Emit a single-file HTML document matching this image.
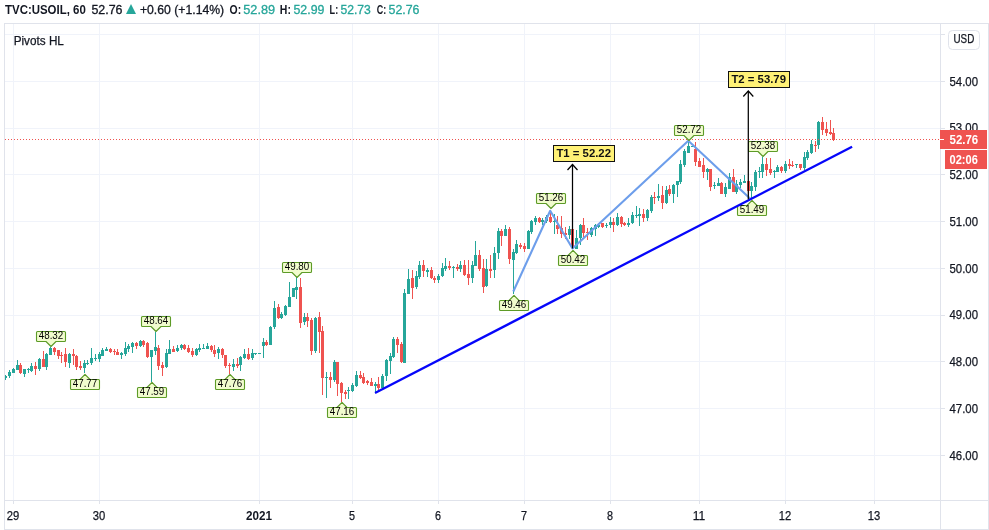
<!DOCTYPE html>
<html><head><meta charset="utf-8"><title>TVC:USOIL</title>
<style>html,body{margin:0;padding:0;background:#fff}body{width:989px;height:530px;overflow:hidden;position:relative}</style></head>
<body>
<svg width="989" height="530" viewBox="0 0 989 530" style="position:absolute;left:0;top:0" font-family='"Liberation Sans", sans-serif'>
<rect width="989" height="530" fill="#fff"/>
<g shape-rendering="crispEdges">
<rect x="13" y="24" width="1" height="476" fill="#f0f3fa"/>
<rect x="99" y="24" width="1" height="476" fill="#f0f3fa"/>
<rect x="259" y="24" width="1" height="476" fill="#f0f3fa"/>
<rect x="352" y="24" width="1" height="476" fill="#f0f3fa"/>
<rect x="438" y="24" width="1" height="476" fill="#f0f3fa"/>
<rect x="524" y="24" width="1" height="476" fill="#f0f3fa"/>
<rect x="610" y="24" width="1" height="476" fill="#f0f3fa"/>
<rect x="699" y="24" width="1" height="476" fill="#f0f3fa"/>
<rect x="785" y="24" width="1" height="476" fill="#f0f3fa"/>
<rect x="874" y="24" width="1" height="476" fill="#f0f3fa"/>
<rect x="5" y="34" width="935" height="1" fill="#f0f3fa"/>
<rect x="5" y="81" width="935" height="1" fill="#f0f3fa"/>
<rect x="5" y="128" width="935" height="1" fill="#f0f3fa"/>
<rect x="5" y="174" width="935" height="1" fill="#f0f3fa"/>
<rect x="5" y="221" width="935" height="1" fill="#f0f3fa"/>
<rect x="5" y="268" width="935" height="1" fill="#f0f3fa"/>
<rect x="5" y="315" width="935" height="1" fill="#f0f3fa"/>
<rect x="5" y="361" width="935" height="1" fill="#f0f3fa"/>
<rect x="5" y="408" width="935" height="1" fill="#f0f3fa"/>
<rect x="5" y="455" width="935" height="1" fill="#f0f3fa"/>
<rect x="4" y="23" width="985" height="1" fill="#e0e3eb"/>
<rect x="4" y="529" width="985" height="1" fill="#e0e3eb"/>
<rect x="4" y="23" width="1" height="507" fill="#e0e3eb"/>
<rect x="988" y="23" width="1" height="507" fill="#e0e3eb"/>
<rect x="940" y="24" width="1" height="505" fill="#e0e3eb"/>
<rect x="5" y="500" width="983" height="1" fill="#e0e3eb"/>
<rect x="13" y="501" width="1" height="3" fill="#e0e3eb"/>
<rect x="99" y="501" width="1" height="3" fill="#e0e3eb"/>
<rect x="259" y="501" width="1" height="3" fill="#e0e3eb"/>
<rect x="352" y="501" width="1" height="3" fill="#e0e3eb"/>
<rect x="438" y="501" width="1" height="3" fill="#e0e3eb"/>
<rect x="524" y="501" width="1" height="3" fill="#e0e3eb"/>
<rect x="610" y="501" width="1" height="3" fill="#e0e3eb"/>
<rect x="699" y="501" width="1" height="3" fill="#e0e3eb"/>
<rect x="785" y="501" width="1" height="3" fill="#e0e3eb"/>
<rect x="874" y="501" width="1" height="3" fill="#e0e3eb"/>
<rect x="941" y="34" width="4" height="1" fill="#e0e3eb"/>
<rect x="941" y="81" width="4" height="1" fill="#e0e3eb"/>
<rect x="941" y="128" width="4" height="1" fill="#e0e3eb"/>
<rect x="941" y="174" width="4" height="1" fill="#e0e3eb"/>
<rect x="941" y="221" width="4" height="1" fill="#e0e3eb"/>
<rect x="941" y="268" width="4" height="1" fill="#e0e3eb"/>
<rect x="941" y="315" width="4" height="1" fill="#e0e3eb"/>
<rect x="941" y="361" width="4" height="1" fill="#e0e3eb"/>
<rect x="941" y="408" width="4" height="1" fill="#e0e3eb"/>
<rect x="941" y="455" width="4" height="1" fill="#e0e3eb"/>
</g>
<g shape-rendering="crispEdges">
<rect x="5" y="375" width="1" height="5" fill="#26a69a"/><rect x="5" y="376" width="2" height="2" fill="#26a69a"/>
<rect x="9" y="370" width="1" height="8" fill="#26a69a"/><rect x="8" y="372" width="3" height="4" fill="#26a69a"/>
<rect x="13" y="368" width="1" height="5" fill="#26a69a"/><rect x="12" y="369" width="3" height="4" fill="#26a69a"/>
<rect x="17" y="360" width="1" height="10" fill="#26a69a"/><rect x="16" y="365" width="3" height="5" fill="#26a69a"/>
<rect x="20" y="363" width="1" height="11" fill="#ef5350"/><rect x="19" y="365" width="3" height="8" fill="#ef5350"/>
<rect x="24" y="369" width="1" height="8" fill="#26a69a"/><rect x="23" y="369" width="3" height="5" fill="#26a69a"/>
<rect x="28" y="368" width="1" height="5" fill="#26a69a"/><rect x="27" y="369" width="3" height="1" fill="#26a69a"/>
<rect x="31" y="363" width="1" height="9" fill="#26a69a"/><rect x="30" y="366" width="3" height="5" fill="#26a69a"/>
<rect x="35" y="362" width="1" height="13" fill="#ef5350"/><rect x="34" y="366" width="3" height="3" fill="#ef5350"/>
<rect x="39" y="358" width="1" height="13" fill="#26a69a"/><rect x="38" y="359" width="3" height="10" fill="#26a69a"/>
<rect x="43" y="351" width="1" height="16" fill="#ef5350"/><rect x="42" y="359" width="3" height="8" fill="#ef5350"/>
<rect x="46" y="353" width="1" height="17" fill="#26a69a"/><rect x="45" y="354" width="3" height="13" fill="#26a69a"/>
<rect x="50" y="347" width="1" height="8" fill="#26a69a"/><rect x="49" y="348" width="3" height="7" fill="#26a69a"/>
<rect x="54" y="347" width="1" height="8" fill="#ef5350"/><rect x="53" y="348" width="3" height="4" fill="#ef5350"/>
<rect x="58" y="350" width="1" height="9" fill="#ef5350"/><rect x="57" y="350" width="3" height="6" fill="#ef5350"/>
<rect x="61" y="352" width="1" height="11" fill="#ef5350"/><rect x="60" y="355" width="3" height="1" fill="#ef5350"/>
<rect x="65" y="348" width="1" height="19" fill="#ef5350"/><rect x="64" y="354" width="3" height="8" fill="#ef5350"/>
<rect x="69" y="353" width="1" height="15" fill="#26a69a"/><rect x="68" y="354" width="3" height="9" fill="#26a69a"/>
<rect x="73" y="349" width="1" height="16" fill="#ef5350"/><rect x="72" y="354" width="3" height="2" fill="#ef5350"/>
<rect x="76" y="355" width="1" height="15" fill="#ef5350"/><rect x="75" y="356" width="3" height="11" fill="#ef5350"/>
<rect x="80" y="361" width="1" height="9" fill="#ef5350"/><rect x="79" y="366" width="3" height="2" fill="#ef5350"/>
<rect x="84" y="360" width="1" height="13" fill="#26a69a"/><rect x="83" y="363" width="3" height="5" fill="#26a69a"/>
<rect x="87" y="360" width="1" height="5" fill="#26a69a"/><rect x="86" y="363" width="3" height="1" fill="#26a69a"/>
<rect x="91" y="348" width="1" height="17" fill="#26a69a"/><rect x="90" y="358" width="3" height="5" fill="#26a69a"/>
<rect x="95" y="354" width="1" height="7" fill="#26a69a"/><rect x="94" y="358" width="3" height="1" fill="#26a69a"/>
<rect x="99" y="352" width="1" height="10" fill="#26a69a"/><rect x="98" y="354" width="3" height="5" fill="#26a69a"/>
<rect x="102" y="348" width="1" height="8" fill="#26a69a"/><rect x="101" y="350" width="3" height="6" fill="#26a69a"/>
<rect x="106" y="347" width="1" height="4" fill="#26a69a"/><rect x="105" y="349" width="3" height="2" fill="#26a69a"/>
<rect x="110" y="348" width="1" height="5" fill="#ef5350"/><rect x="109" y="349" width="3" height="3" fill="#ef5350"/>
<rect x="114" y="349" width="1" height="6" fill="#ef5350"/><rect x="113" y="351" width="3" height="1" fill="#ef5350"/>
<rect x="117" y="349" width="1" height="6" fill="#ef5350"/><rect x="116" y="352" width="3" height="3" fill="#ef5350"/>
<rect x="121" y="352" width="1" height="7" fill="#26a69a"/><rect x="120" y="353" width="3" height="2" fill="#26a69a"/>
<rect x="125" y="342" width="1" height="14" fill="#26a69a"/><rect x="124" y="348" width="3" height="6" fill="#26a69a"/>
<rect x="128" y="344" width="1" height="8" fill="#26a69a"/><rect x="127" y="346" width="3" height="3" fill="#26a69a"/>
<rect x="132" y="342" width="1" height="11" fill="#26a69a"/><rect x="131" y="343" width="3" height="4" fill="#26a69a"/>
<rect x="136" y="342" width="1" height="7" fill="#ef5350"/><rect x="135" y="343" width="3" height="3" fill="#ef5350"/>
<rect x="140" y="340" width="1" height="7" fill="#26a69a"/><rect x="139" y="341" width="3" height="5" fill="#26a69a"/>
<rect x="143" y="340" width="1" height="7" fill="#ef5350"/><rect x="142" y="341" width="3" height="4" fill="#ef5350"/>
<rect x="147" y="342" width="1" height="16" fill="#ef5350"/><rect x="146" y="343" width="3" height="14" fill="#ef5350"/>
<rect x="151" y="350" width="1" height="32" fill="#26a69a"/><rect x="150" y="350" width="3" height="7" fill="#26a69a"/>
<rect x="155" y="332" width="1" height="23" fill="#26a69a"/><rect x="154" y="347" width="3" height="4" fill="#26a69a"/>
<rect x="158" y="345" width="1" height="25" fill="#ef5350"/><rect x="157" y="348" width="3" height="18" fill="#ef5350"/>
<rect x="162" y="362" width="1" height="14" fill="#ef5350"/><rect x="161" y="365" width="3" height="3" fill="#ef5350"/>
<rect x="166" y="349" width="1" height="19" fill="#26a69a"/><rect x="165" y="353" width="3" height="14" fill="#26a69a"/>
<rect x="169" y="340" width="1" height="14" fill="#26a69a"/><rect x="168" y="349" width="3" height="5" fill="#26a69a"/>
<rect x="173" y="346" width="1" height="6" fill="#ef5350"/><rect x="172" y="349" width="3" height="3" fill="#ef5350"/>
<rect x="177" y="345" width="1" height="7" fill="#26a69a"/><rect x="176" y="348" width="3" height="3" fill="#26a69a"/>
<rect x="181" y="344" width="1" height="6" fill="#26a69a"/><rect x="180" y="345" width="3" height="3" fill="#26a69a"/>
<rect x="184" y="344" width="1" height="6" fill="#ef5350"/><rect x="183" y="345" width="3" height="4" fill="#ef5350"/>
<rect x="188" y="345" width="1" height="8" fill="#ef5350"/><rect x="187" y="348" width="3" height="4" fill="#ef5350"/>
<rect x="192" y="348" width="1" height="9" fill="#ef5350"/><rect x="191" y="351" width="3" height="4" fill="#ef5350"/>
<rect x="196" y="348" width="1" height="8" fill="#26a69a"/><rect x="195" y="349" width="3" height="6" fill="#26a69a"/>
<rect x="199" y="344" width="1" height="8" fill="#26a69a"/><rect x="198" y="348" width="3" height="2" fill="#26a69a"/>
<rect x="203" y="344" width="1" height="5" fill="#26a69a"/><rect x="202" y="348" width="3" height="1" fill="#26a69a"/>
<rect x="207" y="343" width="1" height="6" fill="#26a69a"/><rect x="206" y="346" width="3" height="3" fill="#26a69a"/>
<rect x="211" y="345" width="1" height="7" fill="#ef5350"/><rect x="210" y="346" width="3" height="4" fill="#ef5350"/>
<rect x="214" y="345" width="1" height="12" fill="#ef5350"/><rect x="213" y="350" width="3" height="4" fill="#ef5350"/>
<rect x="218" y="347" width="1" height="12" fill="#26a69a"/><rect x="217" y="349" width="3" height="4" fill="#26a69a"/>
<rect x="222" y="348" width="1" height="10" fill="#ef5350"/><rect x="221" y="349" width="3" height="6" fill="#ef5350"/>
<rect x="225" y="355" width="1" height="13" fill="#ef5350"/><rect x="224" y="355" width="3" height="11" fill="#ef5350"/>
<rect x="229" y="363" width="1" height="11" fill="#ef5350"/><rect x="228" y="365" width="3" height="1" fill="#ef5350"/>
<rect x="233" y="359" width="1" height="12" fill="#26a69a"/><rect x="232" y="364" width="3" height="3" fill="#26a69a"/>
<rect x="237" y="358" width="1" height="10" fill="#ef5350"/><rect x="236" y="364" width="3" height="2" fill="#ef5350"/>
<rect x="240" y="356" width="1" height="15" fill="#26a69a"/><rect x="239" y="357" width="3" height="8" fill="#26a69a"/>
<rect x="244" y="349" width="1" height="10" fill="#26a69a"/><rect x="243" y="354" width="3" height="4" fill="#26a69a"/>
<rect x="248" y="348" width="1" height="12" fill="#ef5350"/><rect x="247" y="354" width="3" height="5" fill="#ef5350"/>
<rect x="252" y="349" width="1" height="11" fill="#26a69a"/><rect x="251" y="353" width="3" height="5" fill="#26a69a"/>
<rect x="255" y="353" width="1" height="2" fill="#26a69a"/><rect x="254" y="353" width="3" height="1" fill="#26a69a"/>
<rect x="259" y="353" width="1" height="1" fill="#26a69a"/><rect x="258" y="353" width="3" height="1" fill="#26a69a"/>
<rect x="263" y="338" width="1" height="20" fill="#26a69a"/><rect x="262" y="342" width="3" height="4" fill="#26a69a"/>
<rect x="266" y="340" width="1" height="6" fill="#ef5350"/><rect x="265" y="342" width="3" height="3" fill="#ef5350"/>
<rect x="270" y="326" width="1" height="19" fill="#26a69a"/><rect x="269" y="327" width="3" height="18" fill="#26a69a"/>
<rect x="274" y="301" width="1" height="28" fill="#26a69a"/><rect x="273" y="308" width="3" height="19" fill="#26a69a"/>
<rect x="278" y="304" width="1" height="15" fill="#ef5350"/><rect x="277" y="307" width="3" height="11" fill="#ef5350"/>
<rect x="281" y="312" width="1" height="7" fill="#26a69a"/><rect x="280" y="314" width="3" height="4" fill="#26a69a"/>
<rect x="285" y="305" width="1" height="11" fill="#26a69a"/><rect x="284" y="306" width="3" height="9" fill="#26a69a"/>
<rect x="289" y="282" width="1" height="25" fill="#26a69a"/><rect x="288" y="297" width="3" height="10" fill="#26a69a"/>
<rect x="293" y="288" width="1" height="9" fill="#26a69a"/><rect x="292" y="288" width="3" height="9" fill="#26a69a"/>
<rect x="296" y="277" width="1" height="22" fill="#26a69a"/><rect x="295" y="287" width="3" height="3" fill="#26a69a"/>
<rect x="300" y="278" width="1" height="50" fill="#ef5350"/><rect x="299" y="287" width="3" height="36" fill="#ef5350"/>
<rect x="304" y="313" width="1" height="12" fill="#26a69a"/><rect x="303" y="317" width="3" height="5" fill="#26a69a"/>
<rect x="307" y="313" width="1" height="14" fill="#ef5350"/><rect x="306" y="317" width="3" height="4" fill="#ef5350"/>
<rect x="311" y="318" width="1" height="37" fill="#ef5350"/><rect x="310" y="320" width="3" height="31" fill="#ef5350"/>
<rect x="315" y="317" width="1" height="36" fill="#26a69a"/><rect x="314" y="318" width="3" height="33" fill="#26a69a"/>
<rect x="319" y="312" width="1" height="41" fill="#ef5350"/><rect x="318" y="317" width="3" height="15" fill="#ef5350"/>
<rect x="322" y="326" width="1" height="69" fill="#ef5350"/><rect x="321" y="331" width="3" height="47" fill="#ef5350"/>
<rect x="326" y="372" width="1" height="26" fill="#26a69a"/><rect x="325" y="377" width="3" height="1" fill="#26a69a"/>
<rect x="330" y="372" width="1" height="16" fill="#ef5350"/><rect x="329" y="377" width="3" height="3" fill="#ef5350"/>
<rect x="334" y="360" width="1" height="22" fill="#26a69a"/><rect x="333" y="362" width="3" height="18" fill="#26a69a"/>
<rect x="337" y="362" width="1" height="34" fill="#ef5350"/><rect x="336" y="362" width="3" height="22" fill="#ef5350"/>
<rect x="341" y="382" width="1" height="20" fill="#ef5350"/><rect x="340" y="383" width="3" height="10" fill="#ef5350"/>
<rect x="345" y="390" width="1" height="9" fill="#ef5350"/><rect x="344" y="392" width="3" height="2" fill="#ef5350"/>
<rect x="348" y="387" width="1" height="12" fill="#26a69a"/><rect x="347" y="390" width="3" height="1" fill="#26a69a"/>
<rect x="352" y="383" width="1" height="9" fill="#26a69a"/><rect x="351" y="385" width="3" height="6" fill="#26a69a"/>
<rect x="356" y="371" width="1" height="16" fill="#26a69a"/><rect x="355" y="375" width="3" height="11" fill="#26a69a"/>
<rect x="360" y="371" width="1" height="8" fill="#ef5350"/><rect x="359" y="375" width="3" height="3" fill="#ef5350"/>
<rect x="363" y="373" width="1" height="11" fill="#ef5350"/><rect x="362" y="377" width="3" height="6" fill="#ef5350"/>
<rect x="367" y="380" width="1" height="5" fill="#ef5350"/><rect x="366" y="381" width="3" height="2" fill="#ef5350"/>
<rect x="371" y="378" width="1" height="8" fill="#ef5350"/><rect x="370" y="382" width="3" height="4" fill="#ef5350"/>
<rect x="375" y="382" width="1" height="10" fill="#26a69a"/><rect x="374" y="384" width="3" height="2" fill="#26a69a"/>
<rect x="378" y="377" width="1" height="13" fill="#ef5350"/><rect x="377" y="384" width="3" height="4" fill="#ef5350"/>
<rect x="382" y="374" width="1" height="14" fill="#26a69a"/><rect x="381" y="376" width="3" height="12" fill="#26a69a"/>
<rect x="386" y="359" width="1" height="22" fill="#26a69a"/><rect x="385" y="360" width="3" height="16" fill="#26a69a"/>
<rect x="390" y="353" width="1" height="21" fill="#26a69a"/><rect x="389" y="356" width="3" height="5" fill="#26a69a"/>
<rect x="393" y="337" width="1" height="21" fill="#26a69a"/><rect x="392" y="339" width="3" height="18" fill="#26a69a"/>
<rect x="397" y="337" width="1" height="16" fill="#ef5350"/><rect x="396" y="339" width="3" height="6" fill="#ef5350"/>
<rect x="401" y="342" width="1" height="21" fill="#ef5350"/><rect x="400" y="344" width="3" height="18" fill="#ef5350"/>
<rect x="404" y="289" width="1" height="74" fill="#26a69a"/><rect x="403" y="293" width="3" height="70" fill="#26a69a"/>
<rect x="408" y="269" width="1" height="25" fill="#26a69a"/><rect x="407" y="279" width="3" height="15" fill="#26a69a"/>
<rect x="412" y="270" width="1" height="29" fill="#ef5350"/><rect x="411" y="278" width="3" height="10" fill="#ef5350"/>
<rect x="416" y="271" width="1" height="18" fill="#26a69a"/><rect x="415" y="276" width="3" height="11" fill="#26a69a"/>
<rect x="419" y="261" width="1" height="18" fill="#26a69a"/><rect x="418" y="265" width="3" height="12" fill="#26a69a"/>
<rect x="423" y="260" width="1" height="17" fill="#ef5350"/><rect x="422" y="265" width="3" height="6" fill="#ef5350"/>
<rect x="427" y="268" width="1" height="9" fill="#26a69a"/><rect x="426" y="270" width="3" height="2" fill="#26a69a"/>
<rect x="431" y="267" width="1" height="12" fill="#ef5350"/><rect x="430" y="270" width="3" height="8" fill="#ef5350"/>
<rect x="434" y="276" width="1" height="7" fill="#ef5350"/><rect x="433" y="278" width="3" height="2" fill="#ef5350"/>
<rect x="438" y="274" width="1" height="9" fill="#26a69a"/><rect x="437" y="276" width="3" height="4" fill="#26a69a"/>
<rect x="442" y="263" width="1" height="14" fill="#26a69a"/><rect x="441" y="268" width="3" height="8" fill="#26a69a"/>
<rect x="445" y="258" width="1" height="13" fill="#26a69a"/><rect x="444" y="266" width="3" height="3" fill="#26a69a"/>
<rect x="449" y="261" width="1" height="9" fill="#ef5350"/><rect x="448" y="266" width="3" height="2" fill="#ef5350"/>
<rect x="453" y="266" width="1" height="12" fill="#26a69a"/><rect x="452" y="267" width="3" height="1" fill="#26a69a"/>
<rect x="457" y="264" width="1" height="7" fill="#ef5350"/><rect x="456" y="267" width="3" height="2" fill="#ef5350"/>
<rect x="460" y="261" width="1" height="11" fill="#26a69a"/><rect x="459" y="265" width="3" height="4" fill="#26a69a"/>
<rect x="464" y="260" width="1" height="16" fill="#ef5350"/><rect x="463" y="265" width="3" height="10" fill="#ef5350"/>
<rect x="468" y="260" width="1" height="25" fill="#ef5350"/><rect x="467" y="274" width="3" height="4" fill="#ef5350"/>
<rect x="472" y="261" width="1" height="22" fill="#26a69a"/><rect x="471" y="265" width="3" height="13" fill="#26a69a"/>
<rect x="475" y="241" width="1" height="25" fill="#26a69a"/><rect x="474" y="255" width="3" height="11" fill="#26a69a"/>
<rect x="479" y="250" width="1" height="21" fill="#ef5350"/><rect x="478" y="255" width="3" height="14" fill="#ef5350"/>
<rect x="483" y="259" width="1" height="34" fill="#ef5350"/><rect x="482" y="268" width="3" height="19" fill="#ef5350"/>
<rect x="486" y="259" width="1" height="28" fill="#26a69a"/><rect x="485" y="269" width="3" height="17" fill="#26a69a"/>
<rect x="490" y="255" width="1" height="23" fill="#ef5350"/><rect x="489" y="269" width="3" height="2" fill="#ef5350"/>
<rect x="494" y="247" width="1" height="31" fill="#26a69a"/><rect x="493" y="253" width="3" height="17" fill="#26a69a"/>
<rect x="498" y="228" width="1" height="31" fill="#26a69a"/><rect x="497" y="231" width="3" height="22" fill="#26a69a"/>
<rect x="501" y="229" width="1" height="17" fill="#ef5350"/><rect x="500" y="231" width="3" height="5" fill="#ef5350"/>
<rect x="505" y="225" width="1" height="11" fill="#26a69a"/><rect x="504" y="229" width="3" height="7" fill="#26a69a"/>
<rect x="509" y="227" width="1" height="37" fill="#ef5350"/><rect x="508" y="229" width="3" height="30" fill="#ef5350"/>
<rect x="513" y="249" width="1" height="45" fill="#26a69a"/><rect x="512" y="252" width="3" height="8" fill="#26a69a"/>
<rect x="516" y="240" width="1" height="14" fill="#26a69a"/><rect x="515" y="244" width="3" height="9" fill="#26a69a"/>
<rect x="520" y="243" width="1" height="6" fill="#ef5350"/><rect x="519" y="245" width="3" height="2" fill="#ef5350"/>
<rect x="524" y="243" width="1" height="9" fill="#ef5350"/><rect x="523" y="246" width="3" height="3" fill="#ef5350"/>
<rect x="528" y="230" width="1" height="19" fill="#26a69a"/><rect x="527" y="231" width="3" height="18" fill="#26a69a"/>
<rect x="531" y="220" width="1" height="14" fill="#26a69a"/><rect x="530" y="221" width="3" height="11" fill="#26a69a"/>
<rect x="535" y="216" width="1" height="9" fill="#26a69a"/><rect x="534" y="218" width="3" height="4" fill="#26a69a"/>
<rect x="539" y="217" width="1" height="6" fill="#ef5350"/><rect x="538" y="218" width="3" height="4" fill="#ef5350"/>
<rect x="542" y="218" width="1" height="7" fill="#26a69a"/><rect x="541" y="220" width="3" height="2" fill="#26a69a"/>
<rect x="546" y="215" width="1" height="8" fill="#26a69a"/><rect x="545" y="217" width="3" height="4" fill="#26a69a"/>
<rect x="550" y="210" width="1" height="13" fill="#ef5350"/><rect x="549" y="217" width="3" height="5" fill="#ef5350"/>
<rect x="554" y="214" width="1" height="20" fill="#26a69a"/><rect x="553" y="221" width="3" height="1" fill="#26a69a"/>
<rect x="557" y="216" width="1" height="18" fill="#ef5350"/><rect x="556" y="225" width="3" height="4" fill="#ef5350"/>
<rect x="561" y="216" width="1" height="22" fill="#ef5350"/><rect x="560" y="228" width="3" height="6" fill="#ef5350"/>
<rect x="565" y="227" width="1" height="12" fill="#ef5350"/><rect x="564" y="233" width="3" height="2" fill="#ef5350"/>
<rect x="569" y="226" width="1" height="13" fill="#26a69a"/><rect x="568" y="229" width="3" height="6" fill="#26a69a"/>
<rect x="572" y="229" width="1" height="20" fill="#ef5350"/><rect x="571" y="229" width="3" height="19" fill="#ef5350"/>
<rect x="576" y="230" width="1" height="19" fill="#26a69a"/><rect x="575" y="238" width="3" height="11" fill="#26a69a"/>
<rect x="580" y="224" width="1" height="21" fill="#26a69a"/><rect x="579" y="225" width="3" height="13" fill="#26a69a"/>
<rect x="583" y="218" width="1" height="19" fill="#ef5350"/><rect x="582" y="225" width="3" height="8" fill="#ef5350"/>
<rect x="587" y="228" width="1" height="12" fill="#ef5350"/><rect x="586" y="232" width="3" height="1" fill="#ef5350"/>
<rect x="591" y="227" width="1" height="10" fill="#26a69a"/><rect x="590" y="228" width="3" height="7" fill="#26a69a"/>
<rect x="595" y="224" width="1" height="12" fill="#26a69a"/><rect x="594" y="225" width="3" height="4" fill="#26a69a"/>
<rect x="598" y="224" width="1" height="4" fill="#26a69a"/><rect x="597" y="225" width="3" height="2" fill="#26a69a"/>
<rect x="602" y="223" width="1" height="5" fill="#ef5350"/><rect x="601" y="223" width="3" height="4" fill="#ef5350"/>
<rect x="606" y="223" width="1" height="5" fill="#26a69a"/><rect x="605" y="225" width="3" height="1" fill="#26a69a"/>
<rect x="610" y="217" width="1" height="11" fill="#26a69a"/><rect x="609" y="222" width="3" height="3" fill="#26a69a"/>
<rect x="613" y="218" width="1" height="14" fill="#ef5350"/><rect x="612" y="222" width="3" height="3" fill="#ef5350"/>
<rect x="617" y="213" width="1" height="13" fill="#26a69a"/><rect x="616" y="217" width="3" height="8" fill="#26a69a"/>
<rect x="621" y="216" width="1" height="11" fill="#ef5350"/><rect x="620" y="217" width="3" height="7" fill="#ef5350"/>
<rect x="624" y="222" width="1" height="4" fill="#ef5350"/><rect x="623" y="223" width="3" height="2" fill="#ef5350"/>
<rect x="628" y="218" width="1" height="9" fill="#26a69a"/><rect x="627" y="223" width="3" height="2" fill="#26a69a"/>
<rect x="632" y="212" width="1" height="12" fill="#26a69a"/><rect x="631" y="215" width="3" height="8" fill="#26a69a"/>
<rect x="636" y="206" width="1" height="12" fill="#26a69a"/><rect x="635" y="215" width="3" height="1" fill="#26a69a"/>
<rect x="639" y="208" width="1" height="18" fill="#26a69a"/><rect x="638" y="214" width="3" height="2" fill="#26a69a"/>
<rect x="643" y="209" width="1" height="13" fill="#ef5350"/><rect x="642" y="214" width="3" height="4" fill="#ef5350"/>
<rect x="647" y="209" width="1" height="12" fill="#26a69a"/><rect x="646" y="210" width="3" height="8" fill="#26a69a"/>
<rect x="651" y="195" width="1" height="18" fill="#26a69a"/><rect x="650" y="197" width="3" height="14" fill="#26a69a"/>
<rect x="654" y="192" width="1" height="12" fill="#ef5350"/><rect x="653" y="197" width="3" height="1" fill="#ef5350"/>
<rect x="658" y="184" width="1" height="17" fill="#26a69a"/><rect x="657" y="196" width="3" height="2" fill="#26a69a"/>
<rect x="662" y="186" width="1" height="23" fill="#ef5350"/><rect x="661" y="195" width="3" height="8" fill="#ef5350"/>
<rect x="666" y="186" width="1" height="18" fill="#26a69a"/><rect x="665" y="190" width="3" height="13" fill="#26a69a"/>
<rect x="669" y="185" width="1" height="11" fill="#ef5350"/><rect x="668" y="189" width="3" height="5" fill="#ef5350"/>
<rect x="673" y="184" width="1" height="19" fill="#26a69a"/><rect x="672" y="185" width="3" height="9" fill="#26a69a"/>
<rect x="677" y="181" width="1" height="16" fill="#26a69a"/><rect x="676" y="181" width="3" height="4" fill="#26a69a"/>
<rect x="680" y="160" width="1" height="24" fill="#26a69a"/><rect x="679" y="164" width="3" height="18" fill="#26a69a"/>
<rect x="684" y="149" width="1" height="18" fill="#26a69a"/><rect x="683" y="151" width="3" height="14" fill="#26a69a"/>
<rect x="688" y="141" width="1" height="12" fill="#26a69a"/><rect x="687" y="146" width="3" height="7" fill="#26a69a"/>
<rect x="692" y="146" width="1" height="1" fill="#26a69a"/><rect x="691" y="146" width="3" height="1" fill="#26a69a"/>
<rect x="695" y="142" width="1" height="24" fill="#ef5350"/><rect x="694" y="149" width="3" height="13" fill="#ef5350"/>
<rect x="699" y="158" width="1" height="9" fill="#ef5350"/><rect x="698" y="161" width="3" height="6" fill="#ef5350"/>
<rect x="703" y="158" width="1" height="20" fill="#ef5350"/><rect x="702" y="165" width="3" height="7" fill="#ef5350"/>
<rect x="707" y="168" width="1" height="12" fill="#26a69a"/><rect x="706" y="169" width="3" height="3" fill="#26a69a"/>
<rect x="710" y="169" width="1" height="22" fill="#ef5350"/><rect x="709" y="169" width="3" height="18" fill="#ef5350"/>
<rect x="714" y="182" width="1" height="7" fill="#26a69a"/><rect x="713" y="185" width="3" height="1" fill="#26a69a"/>
<rect x="718" y="178" width="1" height="8" fill="#26a69a"/><rect x="717" y="183" width="3" height="3" fill="#26a69a"/>
<rect x="721" y="182" width="1" height="12" fill="#ef5350"/><rect x="720" y="183" width="3" height="11" fill="#ef5350"/>
<rect x="725" y="183" width="1" height="14" fill="#26a69a"/><rect x="724" y="187" width="3" height="7" fill="#26a69a"/>
<rect x="729" y="173" width="1" height="16" fill="#26a69a"/><rect x="728" y="177" width="3" height="12" fill="#26a69a"/>
<rect x="733" y="169" width="1" height="23" fill="#ef5350"/><rect x="732" y="177" width="3" height="15" fill="#ef5350"/>
<rect x="736" y="180" width="1" height="14" fill="#26a69a"/><rect x="735" y="184" width="3" height="8" fill="#26a69a"/>
<rect x="740" y="179" width="1" height="9" fill="#26a69a"/><rect x="739" y="182" width="3" height="3" fill="#26a69a"/>
<rect x="744" y="175" width="1" height="8" fill="#26a69a"/><rect x="743" y="181" width="3" height="2" fill="#26a69a"/>
<rect x="748" y="181" width="1" height="15" fill="#ef5350"/><rect x="747" y="181" width="3" height="10" fill="#ef5350"/>
<rect x="751" y="182" width="1" height="16" fill="#26a69a"/><rect x="750" y="186" width="3" height="5" fill="#26a69a"/>
<rect x="755" y="170" width="1" height="21" fill="#26a69a"/><rect x="754" y="172" width="3" height="15" fill="#26a69a"/>
<rect x="759" y="167" width="1" height="11" fill="#26a69a"/><rect x="758" y="171" width="3" height="1" fill="#26a69a"/>
<rect x="762" y="157" width="1" height="21" fill="#26a69a"/><rect x="761" y="164" width="3" height="8" fill="#26a69a"/>
<rect x="766" y="158" width="1" height="18" fill="#ef5350"/><rect x="765" y="164" width="3" height="6" fill="#ef5350"/>
<rect x="770" y="158" width="1" height="17" fill="#ef5350"/><rect x="769" y="169" width="3" height="4" fill="#ef5350"/>
<rect x="774" y="170" width="1" height="8" fill="#26a69a"/><rect x="773" y="171" width="3" height="1" fill="#26a69a"/>
<rect x="777" y="165" width="1" height="7" fill="#26a69a"/><rect x="776" y="167" width="3" height="5" fill="#26a69a"/>
<rect x="781" y="166" width="1" height="7" fill="#ef5350"/><rect x="780" y="167" width="3" height="4" fill="#ef5350"/>
<rect x="785" y="161" width="1" height="12" fill="#26a69a"/><rect x="784" y="164" width="3" height="7" fill="#26a69a"/>
<rect x="789" y="159" width="1" height="10" fill="#ef5350"/><rect x="788" y="164" width="3" height="2" fill="#ef5350"/>
<rect x="792" y="161" width="1" height="6" fill="#ef5350"/><rect x="791" y="165" width="3" height="1" fill="#ef5350"/>
<rect x="796" y="164" width="1" height="4" fill="#26a69a"/><rect x="795" y="164" width="3" height="1" fill="#26a69a"/>
<rect x="800" y="164" width="1" height="6" fill="#ef5350"/><rect x="799" y="164" width="3" height="4" fill="#ef5350"/>
<rect x="804" y="152" width="1" height="18" fill="#26a69a"/><rect x="803" y="157" width="3" height="11" fill="#26a69a"/>
<rect x="807" y="150" width="1" height="10" fill="#26a69a"/><rect x="806" y="152" width="3" height="6" fill="#26a69a"/>
<rect x="811" y="140" width="1" height="14" fill="#26a69a"/><rect x="810" y="144" width="3" height="9" fill="#26a69a"/>
<rect x="815" y="141" width="1" height="11" fill="#ef5350"/><rect x="814" y="145" width="3" height="1" fill="#ef5350"/>
<rect x="818" y="121" width="1" height="28" fill="#26a69a"/><rect x="817" y="122" width="3" height="23" fill="#26a69a"/>
<rect x="822" y="117" width="1" height="18" fill="#ef5350"/><rect x="821" y="122" width="3" height="8" fill="#ef5350"/>
<rect x="826" y="122" width="1" height="14" fill="#ef5350"/><rect x="825" y="129" width="3" height="4" fill="#ef5350"/>
<rect x="830" y="120" width="1" height="15" fill="#ef5350"/><rect x="829" y="132" width="3" height="2" fill="#ef5350"/>
<rect x="833" y="128" width="1" height="13" fill="#ef5350"/><rect x="832" y="133" width="3" height="7" fill="#ef5350"/>
</g>
<line x1="5" y1="139.5" x2="940" y2="139.5" stroke="#ef5350" stroke-width="1" stroke-dasharray="1 2" shape-rendering="crispEdges"/>
<polyline points="513.3,291.5 550.2,210.8 572.5,248.5 688.3,140.8 750.3,198.7" fill="none" stroke="#6d9eeb" stroke-width="2.1" stroke-linejoin="round"/>
<path d="M37.5,331.5 H64.5 Q65.5,331.5 65.5,332.5 V340.5 Q65.5,341.5 64.5,341.5 H56 L51,346.5 L46,341.5 H37.5 Q36.5,341.5 36.5,340.5 V332.5 Q36.5,331.5 37.5,331.5Z" fill="#f1fcce" stroke="#5d9b27" stroke-width="1.1" stroke-linejoin="round"/>
<text x="51.0" y="339.0" font-size="10.2" text-anchor="middle" fill="#000" textLength="24.5" lengthAdjust="spacingAndGlyphs">48.32</text>
<path d="M71.5,379.5 H80 L85,374.3 L90,379.5 H98.5 Q99.5,379.5 99.5,380.5 V388.5 Q99.5,389.5 98.5,389.5 H71.5 Q70.5,389.5 70.5,388.5 V380.5 Q70.5,379.5 71.5,379.5Z" fill="#f1fcce" stroke="#5d9b27" stroke-width="1.1" stroke-linejoin="round"/>
<text x="85.0" y="387.0" font-size="10.2" text-anchor="middle" fill="#000" textLength="24.5" lengthAdjust="spacingAndGlyphs">47.77</text>
<path d="M142.5,316.5 H169.5 Q170.5,316.5 170.5,317.5 V325.5 Q170.5,326.5 169.5,326.5 H161 L156,331.5 L151,326.5 H142.5 Q141.5,326.5 141.5,325.5 V317.5 Q141.5,316.5 142.5,316.5Z" fill="#f1fcce" stroke="#5d9b27" stroke-width="1.1" stroke-linejoin="round"/>
<text x="156.0" y="324.0" font-size="10.2" text-anchor="middle" fill="#000" textLength="24.5" lengthAdjust="spacingAndGlyphs">48.64</text>
<path d="M138.5,387.5 H147 L152,382.3 L157,387.5 H165.5 Q166.5,387.5 166.5,388.5 V396.5 Q166.5,397.5 165.5,397.5 H138.5 Q137.5,397.5 137.5,396.5 V388.5 Q137.5,387.5 138.5,387.5Z" fill="#f1fcce" stroke="#5d9b27" stroke-width="1.1" stroke-linejoin="round"/>
<text x="152.0" y="395.0" font-size="10.2" text-anchor="middle" fill="#000" textLength="24.5" lengthAdjust="spacingAndGlyphs">47.59</text>
<path d="M216.5,379.5 H225 L230,374.3 L235,379.5 H243.5 Q244.5,379.5 244.5,380.5 V388.5 Q244.5,389.5 243.5,389.5 H216.5 Q215.5,389.5 215.5,388.5 V380.5 Q215.5,379.5 216.5,379.5Z" fill="#f1fcce" stroke="#5d9b27" stroke-width="1.1" stroke-linejoin="round"/>
<text x="230.0" y="387.0" font-size="10.2" text-anchor="middle" fill="#000" textLength="24.5" lengthAdjust="spacingAndGlyphs">47.76</text>
<path d="M283.5,262.5 H310.5 Q311.5,262.5 311.5,263.5 V271.5 Q311.5,272.5 310.5,272.5 H302 L297,277.5 L292,272.5 H283.5 Q282.5,272.5 282.5,271.5 V263.5 Q282.5,262.5 283.5,262.5Z" fill="#f1fcce" stroke="#5d9b27" stroke-width="1.1" stroke-linejoin="round"/>
<text x="297.0" y="270.0" font-size="10.2" text-anchor="middle" fill="#000" textLength="24.5" lengthAdjust="spacingAndGlyphs">49.80</text>
<path d="M328.5,407.5 H337 L342,402.3 L347,407.5 H355.5 Q356.5,407.5 356.5,408.5 V416.5 Q356.5,417.5 355.5,417.5 H328.5 Q327.5,417.5 327.5,416.5 V408.5 Q327.5,407.5 328.5,407.5Z" fill="#f1fcce" stroke="#5d9b27" stroke-width="1.1" stroke-linejoin="round"/>
<text x="342.0" y="415.0" font-size="10.2" text-anchor="middle" fill="#000" textLength="24.5" lengthAdjust="spacingAndGlyphs">47.16</text>
<path d="M500.5,300.5 H509 L514,295.3 L519,300.5 H527.5 Q528.5,300.5 528.5,301.5 V309.5 Q528.5,310.5 527.5,310.5 H500.5 Q499.5,310.5 499.5,309.5 V301.5 Q499.5,300.5 500.5,300.5Z" fill="#f1fcce" stroke="#5d9b27" stroke-width="1.1" stroke-linejoin="round"/>
<text x="514.0" y="308.0" font-size="10.2" text-anchor="middle" fill="#000" textLength="24.5" lengthAdjust="spacingAndGlyphs">49.46</text>
<path d="M537.5,193.5 H564.5 Q565.5,193.5 565.5,194.5 V202.5 Q565.5,203.5 564.5,203.5 H556 L551,208.5 L546,203.5 H537.5 Q536.5,203.5 536.5,202.5 V194.5 Q536.5,193.5 537.5,193.5Z" fill="#f1fcce" stroke="#5d9b27" stroke-width="1.1" stroke-linejoin="round"/>
<text x="551.0" y="201.0" font-size="10.2" text-anchor="middle" fill="#000" textLength="24.5" lengthAdjust="spacingAndGlyphs">51.26</text>
<path d="M559.5,255.5 H568 L573,250.3 L578,255.5 H586.5 Q587.5,255.5 587.5,256.5 V264.5 Q587.5,265.5 586.5,265.5 H559.5 Q558.5,265.5 558.5,264.5 V256.5 Q558.5,255.5 559.5,255.5Z" fill="#f1fcce" stroke="#5d9b27" stroke-width="1.1" stroke-linejoin="round"/>
<text x="573.0" y="263.0" font-size="10.2" text-anchor="middle" fill="#000" textLength="24.5" lengthAdjust="spacingAndGlyphs">50.42</text>
<path d="M675.5,125.5 H702.5 Q703.5,125.5 703.5,126.5 V134.5 Q703.5,135.5 702.5,135.5 H694 L689,140.5 L684,135.5 H675.5 Q674.5,135.5 674.5,134.5 V126.5 Q674.5,125.5 675.5,125.5Z" fill="#f1fcce" stroke="#5d9b27" stroke-width="1.1" stroke-linejoin="round"/>
<text x="689.0" y="133.0" font-size="10.2" text-anchor="middle" fill="#000" textLength="24.5" lengthAdjust="spacingAndGlyphs">52.72</text>
<path d="M749.5,141.5 H776.5 Q777.5,141.5 777.5,142.5 V150.5 Q777.5,151.5 776.5,151.5 H768 L763,156.5 L758,151.5 H749.5 Q748.5,151.5 748.5,150.5 V142.5 Q748.5,141.5 749.5,141.5Z" fill="#f1fcce" stroke="#5d9b27" stroke-width="1.1" stroke-linejoin="round"/>
<text x="763.0" y="149.0" font-size="10.2" text-anchor="middle" fill="#000" textLength="24.5" lengthAdjust="spacingAndGlyphs">52.38</text>
<path d="M738.5,205.5 H747 L752,200.3 L757,205.5 H765.5 Q766.5,205.5 766.5,206.5 V214.5 Q766.5,215.5 765.5,215.5 H738.5 Q737.5,215.5 737.5,214.5 V206.5 Q737.5,205.5 738.5,205.5Z" fill="#f1fcce" stroke="#5d9b27" stroke-width="1.1" stroke-linejoin="round"/>
<text x="752.0" y="213.0" font-size="10.2" text-anchor="middle" fill="#000" textLength="24.5" lengthAdjust="spacingAndGlyphs">51.49</text>
<line x1="375" y1="393.1" x2="852.1" y2="146.7" stroke="#0606fa" stroke-width="2.3"/>
<g stroke="#000" stroke-width="1.25" fill="none"><line x1="572.5" y1="248.5" x2="572.5" y2="164.5"/><polyline points="567.5,170.0 572.5,164.5 577.5,170.0"/></g>
<g stroke="#000" stroke-width="1.25" fill="none"><line x1="748.3" y1="199.2" x2="748.3" y2="91"/><polyline points="743.3,96.5 748.3,91 753.3,96.5"/></g>
<rect x="553.5" y="145.5" width="61" height="16" fill="#fff176" stroke="#111" stroke-width="1"/>
<text x="556.4" y="157" font-size="11.5" font-weight="bold" fill="#111" textLength="54.6" lengthAdjust="spacingAndGlyphs">T1 = 52.22</text>
<rect x="728.5" y="71.5" width="61" height="16" fill="#fff176" stroke="#111" stroke-width="1"/>
<text x="731.4" y="83" font-size="11.5" font-weight="bold" fill="#111" textLength="54.6" lengthAdjust="spacingAndGlyphs">T2 = 53.79</text>
<text x="949.5" y="459.6" font-size="12" fill="#131722" stroke="#131722" stroke-width="0.25" textLength="28.5" lengthAdjust="spacingAndGlyphs">46.00</text>
<text x="949.5" y="412.8" font-size="12" fill="#131722" stroke="#131722" stroke-width="0.25" textLength="28.5" lengthAdjust="spacingAndGlyphs">47.00</text>
<text x="949.5" y="366.1" font-size="12" fill="#131722" stroke="#131722" stroke-width="0.25" textLength="28.5" lengthAdjust="spacingAndGlyphs">48.00</text>
<text x="949.5" y="319.3" font-size="12" fill="#131722" stroke="#131722" stroke-width="0.25" textLength="28.5" lengthAdjust="spacingAndGlyphs">49.00</text>
<text x="949.5" y="272.6" font-size="12" fill="#131722" stroke="#131722" stroke-width="0.25" textLength="28.5" lengthAdjust="spacingAndGlyphs">50.00</text>
<text x="949.5" y="225.8" font-size="12" fill="#131722" stroke="#131722" stroke-width="0.25" textLength="28.5" lengthAdjust="spacingAndGlyphs">51.00</text>
<text x="949.5" y="179.1" font-size="12" fill="#131722" stroke="#131722" stroke-width="0.25" textLength="28.5" lengthAdjust="spacingAndGlyphs">52.00</text>
<text x="949.5" y="132.3" font-size="12" fill="#131722" stroke="#131722" stroke-width="0.25" textLength="28.5" lengthAdjust="spacingAndGlyphs">53.00</text>
<text x="949.5" y="85.5" font-size="12" fill="#131722" stroke="#131722" stroke-width="0.25" textLength="28.5" lengthAdjust="spacingAndGlyphs">54.00</text>
<rect x="940" y="130" width="47" height="19" fill="#ef5350" shape-rendering="crispEdges"/>
<rect x="940" y="139" width="4" height="1" fill="#fff" shape-rendering="crispEdges"/>
<rect x="945" y="150" width="42" height="19" fill="#ef5350" shape-rendering="crispEdges"/>
<text x="949.5" y="143.8" font-size="12" font-weight="bold" fill="#fff" textLength="28.7" lengthAdjust="spacingAndGlyphs">52.76</text>
<text x="949.5" y="164.1" font-size="12" font-weight="bold" fill="#fff" textLength="28.3" lengthAdjust="spacingAndGlyphs">02:06</text>
<rect x="948.5" y="30.5" width="31" height="19" rx="4" fill="#fff" stroke="#e0e3eb"/>
<text x="953.5" y="43.1" font-size="12" fill="#131722" stroke="#131722" stroke-width="0.25" textLength="20.8" lengthAdjust="spacingAndGlyphs">USD</text>
<text x="6.75" y="519.9" font-size="12.3" fill="#131722" stroke="#131722" stroke-width="0.25" textLength="12.5" lengthAdjust="spacingAndGlyphs">29</text>
<text x="92.75" y="519.9" font-size="12.3" fill="#131722" stroke="#131722" stroke-width="0.25" textLength="12.5" lengthAdjust="spacingAndGlyphs">30</text>
<text x="246.0" y="519.9" font-size="12.3" fill="#131722" font-weight="bold" textLength="26.0" lengthAdjust="spacingAndGlyphs">2021</text>
<text x="349.0" y="519.9" font-size="12.3" fill="#131722" stroke="#131722" stroke-width="0.25" textLength="6.0" lengthAdjust="spacingAndGlyphs">5</text>
<text x="435.0" y="519.9" font-size="12.3" fill="#131722" stroke="#131722" stroke-width="0.25" textLength="6.0" lengthAdjust="spacingAndGlyphs">6</text>
<text x="521.0" y="519.9" font-size="12.3" fill="#131722" stroke="#131722" stroke-width="0.25" textLength="6.0" lengthAdjust="spacingAndGlyphs">7</text>
<text x="607.0" y="519.9" font-size="12.3" fill="#131722" stroke="#131722" stroke-width="0.25" textLength="6.0" lengthAdjust="spacingAndGlyphs">8</text>
<text x="692.75" y="519.9" font-size="12.3" fill="#131722" stroke="#131722" stroke-width="0.25" textLength="12.5" lengthAdjust="spacingAndGlyphs">11</text>
<text x="778.75" y="519.9" font-size="12.3" fill="#131722" stroke="#131722" stroke-width="0.25" textLength="12.5" lengthAdjust="spacingAndGlyphs">12</text>
<text x="867.75" y="519.9" font-size="12.3" fill="#131722" stroke="#131722" stroke-width="0.25" textLength="12.5" lengthAdjust="spacingAndGlyphs">13</text>
<text x="13.7" y="45" font-size="12" fill="#131722" stroke="#131722" stroke-width="0.25" textLength="50.2" lengthAdjust="spacingAndGlyphs">Pivots HL</text>
<text x="5" y="14.2" font-size="12.5" fill="#131722" font-weight="bold" textLength="80.8" lengthAdjust="spacingAndGlyphs">TVC:USOIL, 60</text>
<text x="91.4" y="14.2" font-size="12.5" fill="#131722" stroke="#131722" stroke-width="0.3" textLength="31.1" lengthAdjust="spacingAndGlyphs">52.76</text>
<path d="M126,13.9 L131,4.1 L136,13.9 Z" fill="#26a69a"/>
<text x="139.9" y="14.2" font-size="12.5" fill="#131722" stroke="#131722" stroke-width="0.3" textLength="84.3" lengthAdjust="spacingAndGlyphs">+0.60 (+1.14%)</text>
<text x="229.6" y="14.2" font-size="12.5" fill="#131722" font-weight="bold" textLength="11.6" lengthAdjust="spacingAndGlyphs">O:</text>
<text x="243.3" y="14.2" font-size="12.5" fill="#26a69a" stroke="#26a69a" stroke-width="0.3" textLength="31.8" lengthAdjust="spacingAndGlyphs">52.89</text>
<text x="279.8" y="14.2" font-size="12.5" fill="#131722" font-weight="bold" textLength="11.1" lengthAdjust="spacingAndGlyphs">H:</text>
<text x="293.5" y="14.2" font-size="12.5" fill="#26a69a" stroke="#26a69a" stroke-width="0.3" textLength="30.9" lengthAdjust="spacingAndGlyphs">52.99</text>
<text x="329.6" y="14.2" font-size="12.5" fill="#131722" font-weight="bold" textLength="8.6" lengthAdjust="spacingAndGlyphs">L:</text>
<text x="340.4" y="14.2" font-size="12.5" fill="#26a69a" stroke="#26a69a" stroke-width="0.3" textLength="30.4" lengthAdjust="spacingAndGlyphs">52.73</text>
<text x="376.8" y="14.2" font-size="12.5" fill="#131722" font-weight="bold" textLength="9.5" lengthAdjust="spacingAndGlyphs">C:</text>
<text x="388.5" y="14.2" font-size="12.5" fill="#26a69a" stroke="#26a69a" stroke-width="0.3" textLength="31.0" lengthAdjust="spacingAndGlyphs">52.76</text>
</svg>
</body></html>
